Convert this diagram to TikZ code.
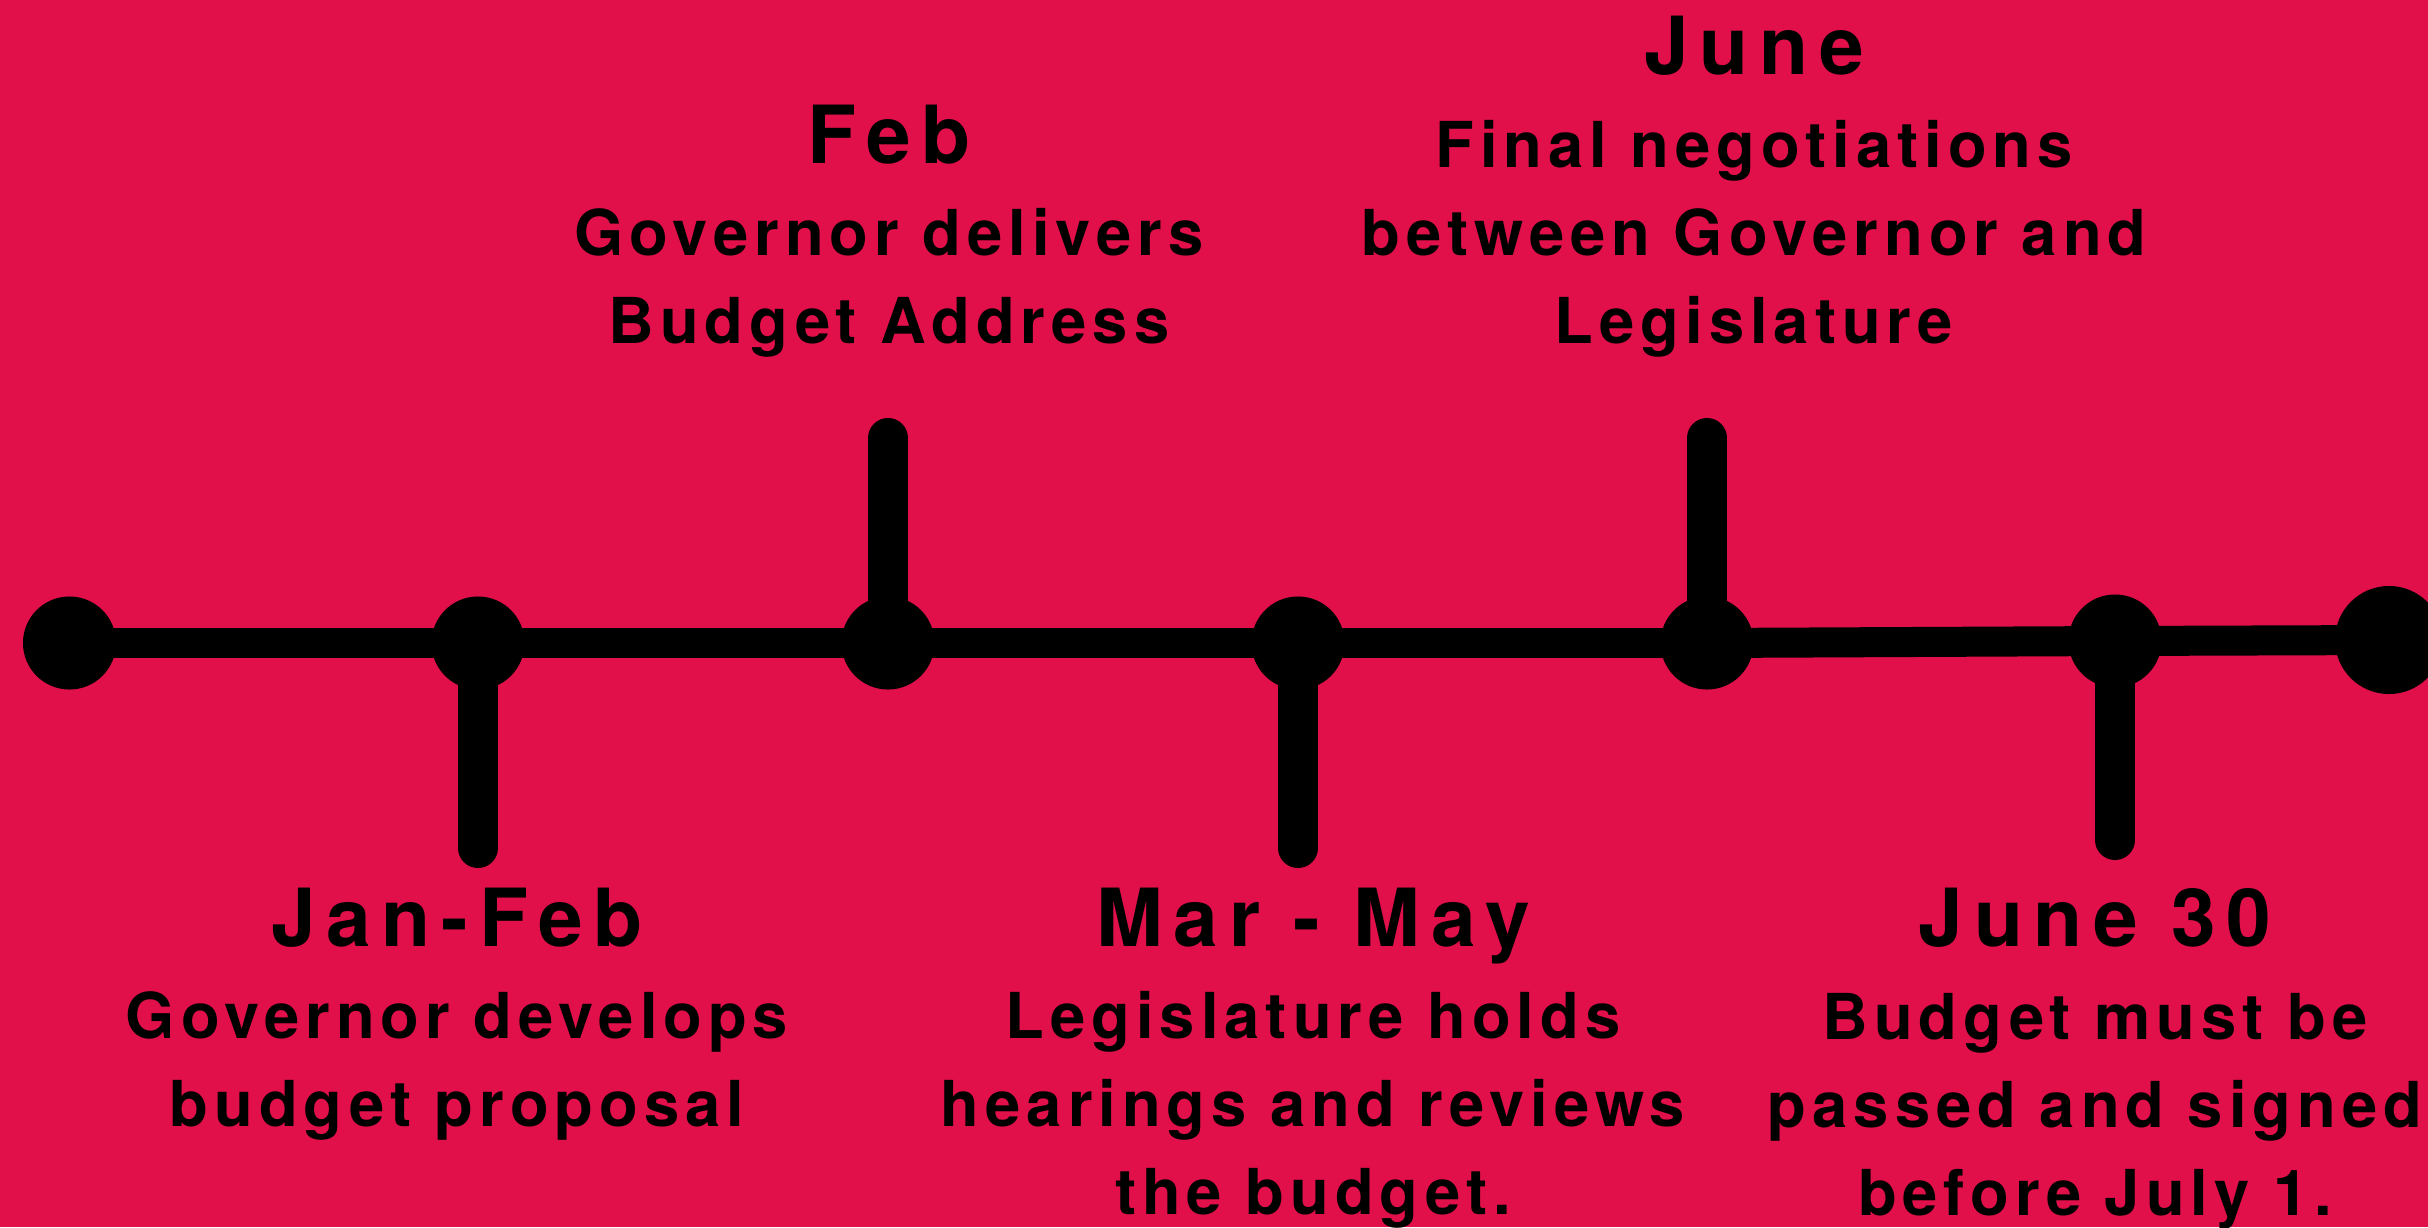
\documentclass[tikz,border=0pt]{standalone}
\usepackage{fontspec}
\setmainfont{TeX Gyre Heros}[LetterSpace=9.5]
\usetikzlibrary{calc}
\definecolor{crimson}{RGB}{226,16,74}
\tikzstyle{dot}=[circle,fill=black,minimum size=0.93cm,inner sep=0pt]
\tikzstyle{bigdot}=[circle,fill=black,minimum size=1.08cm,inner sep=0pt]
\tikzstyle{axis}=[draw,line width=0.3cm]
\tikzstyle{tick}=[draw,line width=0.4cm,line cap=round]
\tikzstyle{title}=[font=\fontsize{22.8pt}{27pt}\selectfont\bfseries\addfontfeature{LetterSpace=13.5},anchor=base,inner sep=0pt]
\tikzstyle{desc}=[font=\fontsize{18pt}{25pt}\selectfont\bfseries,align=center,anchor=base,inner sep=0pt]

\begin{document}
\begin{tikzpicture}[x=0.01cm, y=-0.01cm]

   % background
   \fill[crimson] (0,0) rectangle (2428,1227);
   \useasboundingbox (0,0) rectangle (2428,1227);

%dots
    \foreach \pos/\name in {{(69.5,643)/d0}, {(478,643)/d1}, {(888,643)/d2}, {(1298,643)/d3}, {(1707,643)/d4}, {(2115,641)/d5}}
        \node[dot] (\name) at \pos {};
    \node[bigdot] (d6) at (2389,640) {};

%tick ends
    \foreach \pos/\name in {{(478,848)/t1}, {(888,438)/t2}, {(1298,848)/t3}, {(1707,438)/t4}, {(2115,840)/t5}}
        \path \pos coordinate (\name);

    % timeline
    \foreach \source/ \dest in {d0/d1, d1/d2, d2/d3, d3/d4, d4/d5, d5/d6}
        \path[axis] (\source.center) -- (\dest.center);

    % ticks
    \foreach \source/ \dest in {d1/t1, d2/t2, d3/t3, d4/t4, d5/t5}
        \path[tick] (\source.center) -- (\dest);

% Labels above (desc: base = last line)
  \node[title] (feb) at (889, 163) {Feb};
  \node[desc] (febtxt) at (889, 343) {Governor delivers\\Budget Address};

  \node[title] (june) at (1754, 74) {June};
  \node[desc] (junetxt) at (1754, 343) {Final negotiations\\between Governor and\\Legislature};

% Labels below
  \node[title] (janfeb) at (457, 946) {Jan-Feb};
  \node[desc] (janfebtxt) at (457, 1126) {Governor develops\\budget proposal};

  \node[title] (marmay) at (1313, 946) {Mar - May};
  \node[desc] (marmaytxt) at (1313, 1214) {Legislature holds\\hearings and reviews\\the budget.};

  \node[title] (june30) at (2095, 946) {June 30};
  \node[desc] (june30txt) at (2095, 1215) {Budget must be\\passed and signed\\before July 1.};

\end{tikzpicture}
\end{document}
